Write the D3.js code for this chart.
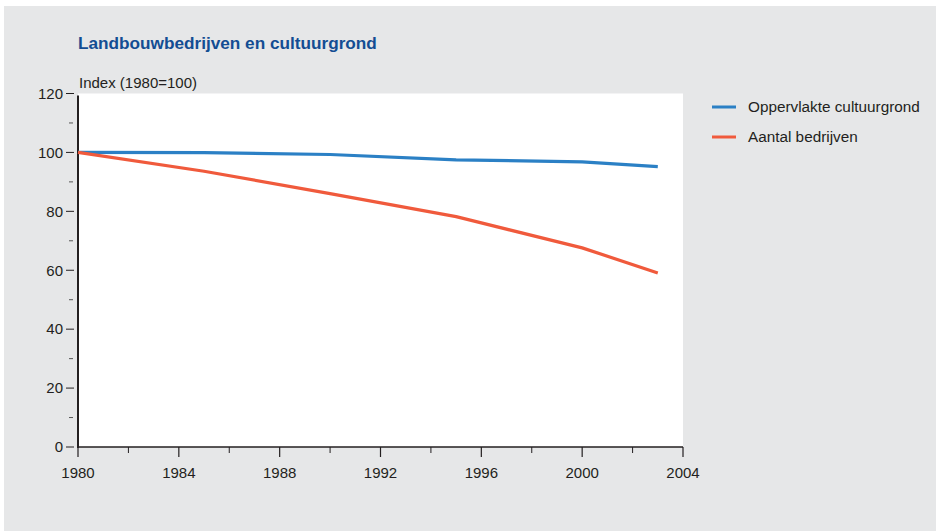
<!DOCTYPE html>
<html>
<head>
<meta charset="utf-8">
<script src="https://cdn.jsdelivr.net/npm/d3@7"></script>
<style>
  html, body { margin: 0; padding: 0; background: #ffffff; }
  svg { display: block; font-family: "Liberation Sans", Arial, sans-serif; }
</style>
</head>
<body>
<svg id="chart" width="936" height="531"></svg>
<script>
// Index numbers (1980 = 100)
const years = [1980, 1985, 1990, 1995, 2000, 2003];
const oppervlakte = [100, 99.9, 99.3, 97.5, 96.8, 95.2];
const bedrijven = [100, 93.6, 86.0, 78.2, 67.6, 59.1];
const seriesNames = ["Oppervlakte cultuurgrond", "Aantal bedrijven"];
const seriesColors = ["#2b80c5", "#f05a3c"];
const xTicks = [1980, 1984, 1988, 1992, 1996, 2000, 2004];
const yTicks = [0, 20, 40, 60, 80, 100, 120];

const svg = d3.select("#chart");

// panel background
svg.append("rect").attr("x", 4).attr("y", 6).attr("width", 932).attr("height", 525).attr("fill", "#e6e7e8");

const x = d3.scaleLinear().domain([1980, 2004]).range([78, 683]);
const y = d3.scaleLinear().domain([0, 120]).range([447, 93.5]);

// plot area
svg.append("rect")
  .attr("x", x(1980)).attr("y", y(120))
  .attr("width", x(2004) - x(1980)).attr("height", y(0) - y(120))
  .attr("fill", "#ffffff");

// title
svg.append("text").attr("x", 78).attr("y", 48.5)
  .attr("fill", "#134d93").attr("font-size", 17.2).attr("font-weight", "bold")
  .text("Landbouwbedrijven en cultuurgrond");

svg.append("text").attr("x", 79).attr("y", 88)
  .attr("fill", "#231f20").attr("font-size", 15)
  .text("Index (1980=100)");

const axisColor = "#231f20";
const labelSize = 15;

// y axis: major ticks with labels, minor ticks between
const yAxis = svg.append("g").attr("transform", `translate(${x(1980) - 2},0)`);
yAxis.selectAll("line.major").data(yTicks).join("line")
  .attr("x1", -10).attr("x2", -2)
  .attr("y1", d => y(d)).attr("y2", d => y(d))
  .attr("stroke", axisColor).attr("stroke-width", 1);
yAxis.selectAll("line.minor").data(d3.range(10, 120, 20)).join("line")
  .attr("class", "minor")
  .attr("x1", -7).attr("x2", -3)
  .attr("y1", d => y(d)).attr("y2", d => y(d))
  .attr("stroke", "#555").attr("stroke-width", 1);
yAxis.selectAll("text").data(yTicks).join("text")
  .attr("x", -13).attr("y", d => y(d)).attr("dy", "0.35em")
  .attr("text-anchor", "end").attr("font-size", labelSize).attr("fill", axisColor)
  .text(d => d);

// x axis ticks and labels
const xAxis = svg.append("g");
xAxis.selectAll("line.major").data(xTicks).join("line")
  .attr("x1", d => x(d)).attr("x2", d => x(d))
  .attr("y1", y(0)).attr("y2", y(0) + 10)
  .attr("stroke", axisColor).attr("stroke-width", 1.2);
xAxis.selectAll("line.minor").data(d3.range(1982, 2004, 4)).join("line")
  .attr("class", "minor")
  .attr("x1", d => x(d)).attr("x2", d => x(d))
  .attr("y1", y(0)).attr("y2", y(0) + 6)
  .attr("stroke", axisColor).attr("stroke-width", 1);
xAxis.selectAll("text").data(xTicks).join("text")
  .attr("x", d => x(d)).attr("y", 477.5)
  .attr("text-anchor", "middle").attr("font-size", labelSize).attr("fill", axisColor)
  .text(d => d);

// axis lines
svg.append("line").attr("x1", x(1980)).attr("x2", x(1980))
  .attr("y1", y(120) + 2).attr("y2", y(0) + 1)
  .attr("stroke", axisColor).attr("stroke-width", 2);
svg.append("line").attr("x1", x(1980) - 1).attr("x2", x(2004))
  .attr("y1", y(0)).attr("y2", y(0))
  .attr("stroke", axisColor).attr("stroke-width", 1.5);

// series lines
const line = d3.line().x(d => x(d[0])).y(d => y(d[1]));
[oppervlakte, bedrijven].forEach((vals, i) => {
  svg.append("path")
    .datum(years.map((yr, j) => [yr, vals[j]]))
    .attr("d", line)
    .attr("fill", "none")
    .attr("stroke", seriesColors[i])
    .attr("stroke-width", 3.2)
    .attr("stroke-linejoin", "round");
});

// legend
const legend = svg.append("g").attr("transform", "translate(712,107)");
seriesNames.forEach((name, i) => {
  const g = legend.append("g").attr("transform", `translate(0,${i * 30})`);
  g.append("line").attr("x1", 0).attr("x2", 24).attr("y1", 0).attr("y2", 0)
    .attr("stroke", seriesColors[i]).attr("stroke-width", 3);
  g.append("text").attr("x", 36).attr("y", 0).attr("dy", "0.35em")
    .attr("font-size", 15.3).attr("fill", axisColor).text(name);
});
</script>
</body>
</html>
